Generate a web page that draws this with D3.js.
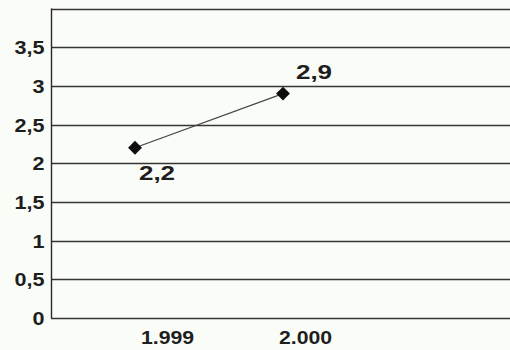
<!DOCTYPE html>
<html>
<head>
<meta charset="utf-8">
<script src="https://cdn.jsdelivr.net/npm/d3@7"></script>
<style>
  html, body { margin: 0; padding: 0; background: #fafcf7; }
  svg { display: block; }
  text { font-family: "Liberation Sans", Arial, sans-serif; font-weight: bold; fill: #1e1e1e; }
</style>
</head>
<body>
<svg id="chart" width="510" height="350"></svg>
<script>
// Series data
const years = ["1.999", "2.000"];
const values = [2.2, 2.9];
const yTicks = [0, 0.5, 1, 1.5, 2, 2.5, 3, 3.5];

const plotLeft = 51, plotRight = 512, plotTop = 8.5, plotBottom = 318;
const AXIS_FONT = 18, VALUE_FONT = 20;

const svg = d3.select("#chart");

const y = d3.scaleLinear().domain([0, 4]).range([plotBottom, plotTop]);
// marker positions and category label positions along the x axis
const xMark = d3.scalePoint().domain(years).range([135, 283]);
const xLabel = d3.scalePoint().domain(years).range([167, 305]);

const locale = d3.formatLocale({ decimal: ",", thousands: ".", grouping: [3], currency: ["", ""] });
const fmt = locale.format("~g");
const fmtVal = locale.format(".1f");

// widen glyphs horizontally (wide-set lettering)
function widen(sel, k) {
  sel.each(function () {
    const len = this.getComputedTextLength();
    d3.select(this).attr("textLength", len * k).attr("lengthAdjust", "spacingAndGlyphs");
  });
}

// horizontal gridlines + top frame line
const gridVals = yTicks.concat([4]);
svg.append("g")
  .selectAll("line")
  .data(gridVals)
  .join("line")
  .attr("x1", plotLeft).attr("x2", plotRight)
  .attr("y1", d => Math.round(y(d)) + 0.5)
  .attr("y2", d => Math.round(y(d)) + 0.5)
  .attr("stroke", "#363434")
  .attr("stroke-width", 1.4);

// y axis
const yAxis = d3.axisLeft(y).tickValues(yTicks).tickFormat(fmt).tickSize(0).tickPadding(7);
const gy = svg.append("g").attr("transform", `translate(${plotLeft + 0.5},0)`).call(yAxis);
gy.select(".domain").attr("stroke", "#2a2828").attr("stroke-width", 1.4)
  .attr("d", `M0,${plotTop}V${plotBottom}`);
gy.selectAll("text").attr("font-size", AXIS_FONT).attr("font-family", null)
  .attr("fill", null).attr("dy", "0.36em").call(widen, 1.2);

// x axis category labels
const xAxis = d3.axisBottom(xLabel).tickSize(0).tickPadding(13);
const gx = svg.append("g").attr("transform", `translate(0,${plotBottom})`).call(xAxis);
gx.select(".domain").remove();
gx.selectAll("text").attr("font-size", AXIS_FONT).attr("font-family", null)
  .attr("fill", null).call(widen, 1.18);

const pts = years.map((yr, i) => ({ yr, v: values[i] }));

// connecting line
svg.append("path")
  .datum(pts)
  .attr("fill", "none")
  .attr("stroke", "#444")
  .attr("stroke-width", 1.1)
  .attr("d", d3.line().x(d => xMark(d.yr)).y(d => y(d.v)));

// diamond markers
svg.append("g")
  .selectAll("path")
  .data(pts)
  .join("path")
  .attr("transform", d => `translate(${xMark(d.yr)},${y(d.v)}) rotate(45)`)
  .attr("d", d3.symbol(d3.symbolSquare, 96))
  .attr("fill", "#0d0d0d");

// value labels: first below-right, second above-right
const labelOffsets = [[22, 32], [31, -15]];
svg.append("g")
  .selectAll("text")
  .data(pts)
  .join("text")
  .attr("x", (d, i) => xMark(d.yr) + labelOffsets[i][0])
  .attr("y", (d, i) => y(d.v) + labelOffsets[i][1])
  .attr("text-anchor", "middle")
  .attr("font-size", VALUE_FONT)
  .text(d => fmtVal(d.v))
  .call(widen, 1.3);
</script>
</body>
</html>
